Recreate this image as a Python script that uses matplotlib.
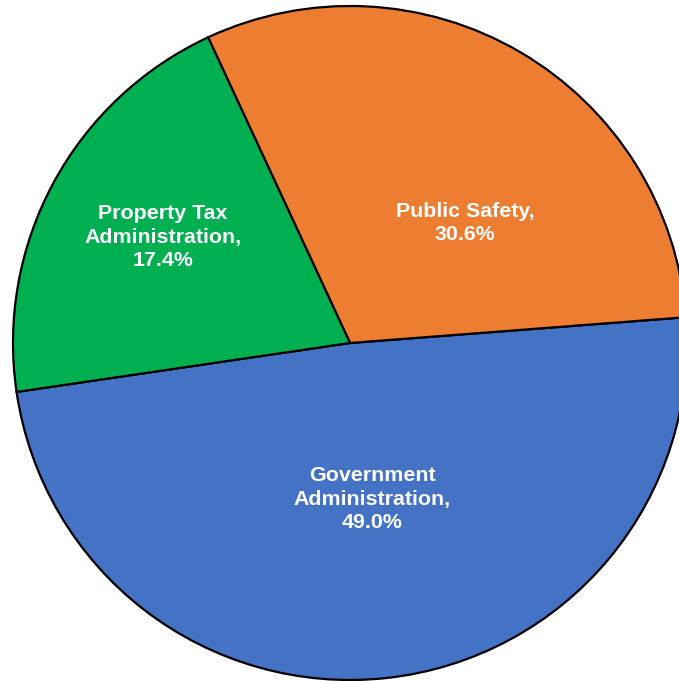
import matplotlib.pyplot as plt

categories = ["Government\nAdministration,", "Public Safety,", "Property Tax\nAdministration,"]
pct_labels = ["49.0%", "30.6%", "17.4%"]
shares = [48.9, 30.7, 20.4]  # wedge sizes as drawn
colors = ["#4472C4", "#ED7D31", "#00B050"]

# label anchors in pixels (x, y from top), hand-placed like in the original
label_pos = [(372, 499), (465, 223), (163, 237)]

W, H = 679, 681
fig = plt.figure(figsize=(W / 100, H / 100), dpi=100)
ax = fig.add_axes([0, 0, 1, 1])

cx, cy, r = 350, H - 343, 337
ax.pie(shares, colors=colors, startangle=188.35, counterclock=True,
       center=(cx, cy), radius=r,
       wedgeprops=dict(edgecolor="black", linewidth=1.6))

for cat, pct, (px, py) in zip(categories, pct_labels, label_pos):
    ax.text(px, H - py, cat + "\n" + pct, ha="center", va="center",
            color="white", fontsize=15.4, fontweight="bold",
            family="Liberation Sans", linespacing=1.27)

ax.set_xlim(0, W)
ax.set_ylim(0, H)
ax.set_aspect("equal")
ax.axis("off")

fig.savefig("out.png", dpi=100)
